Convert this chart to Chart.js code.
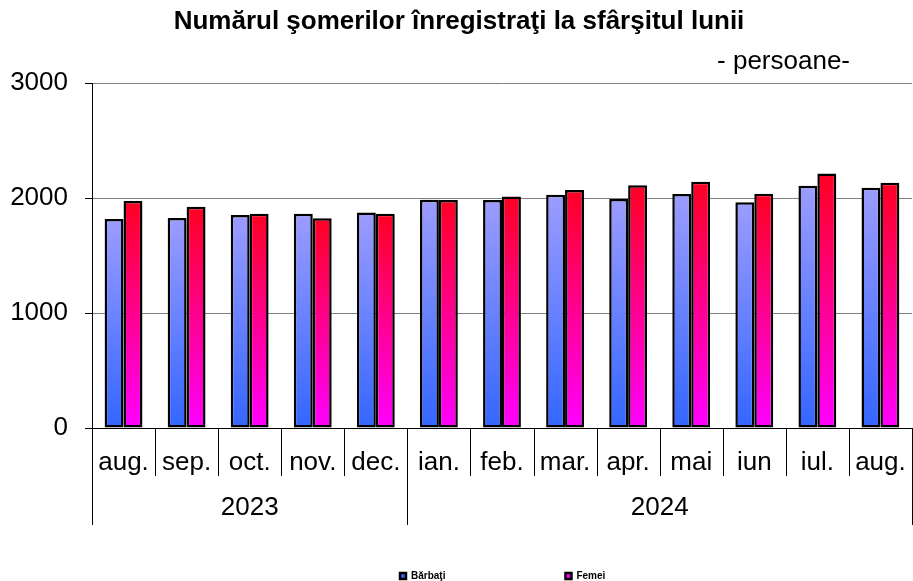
<!DOCTYPE html>
<html>
<head>
<meta charset="utf-8">
<script src="https://cdn.jsdelivr.net/npm/chart.js@4/dist/chart.umd.min.js"></script>
<style>
  html, body { margin: 0; padding: 0; background: #fff; overflow: hidden; }
  #wrap { width: 925px; height: 581px; position: relative; }
</style>
</head>
<body>
<div id="wrap"><canvas id="c"></canvas></div>
<script>
const TITLE = 'Numărul şomerilor înregistraţi la sfârşitul lunii';
const SUBTITLE = '- persoane-';
const months = ['aug.', 'sep.', 'oct.', 'nov.', 'dec.', 'ian.', 'feb.', 'mar.', 'apr.', 'mai', 'iun', 'iul.', 'aug.'];
const years = ['2023', '2024'];
const yearSpans = [5, 8];
const seriesNames = ['Bărbaţi', 'Femei'];
const barbati = [1817, 1826, 1852, 1864, 1873, 1985, 1983, 2029, 1991, 2035, 1962, 2107, 2090];
const femei = [1974, 1925, 1864, 1823, 1864, 1983, 2014, 2070, 2110, 2142, 2038, 2212, 2133];
const yTicks = [0, 1000, 2000, 3000];

const FONT = "'Liberation Sans', Arial, sans-serif";

function gradientFill(topColor, bottomColor, legendColor) {
  return function (ctx) {
    const chart = ctx.chart;
    if (ctx.type !== 'data' || !chart.chartArea) return legendColor;
    const y = chart.scales.y;
    const v = ctx.raw;
    const yTop = y.getPixelForValue(v);
    const yBot = y.getPixelForValue(0);
    if (!isFinite(yTop) || !isFinite(yBot) || yTop === yBot) return legendColor;
    const g = chart.ctx.createLinearGradient(0, yTop, 0, yBot);
    g.addColorStop(0, topColor);
    g.addColorStop(1, bottomColor);
    return g;
  };
}

const groupPlugin = {
  id: 'groupPlugin',
  afterLayout(chart) {
    // place subtitle and legend at their reference positions
    const sub = chart.boxes.find(b => b.options && b.options.text === SUBTITLE);
    if (sub) { sub.right = 850; }
    const lg = chart.legend;
    if (lg) {
      const pad = lg.options.labels.padding;
      lg.left = 400 - pad;
      lg.right = lg.left + 700;
      lg.top = 571 - pad;
      lg.bottom = 581;
    }
  },
  afterDraw(chart) {
    const x = chart.scales.x;
    const ctx = chart.ctx;
    const bottom = chart.chartArea.bottom;
    const half = (x.getPixelForValue(1) - x.getPixelForValue(0)) / 2;
    const yearBounds = [0];
    yearSpans.reduce((acc, s) => { yearBounds.push(acc + s); return acc + s; }, 0);
    ctx.save();
    ctx.strokeStyle = '#000';
    ctx.lineWidth = 1;
    for (let i = 0; i <= months.length; i++) {
      const px = Math.round(x.getPixelForValue(i) - half) + 0.5;
      const len = yearBounds.includes(i) ? 97 : 48;
      ctx.beginPath();
      ctx.moveTo(px, bottom);
      ctx.lineTo(px, bottom + len);
      ctx.stroke();
    }
    ctx.fillStyle = '#000';
    ctx.font = '26px ' + FONT;
    ctx.textAlign = 'center';
    ctx.textBaseline = 'middle';
    for (let k = 0; k < years.length; k++) {
      const a = x.getPixelForValue(yearBounds[k]) - half;
      const b = x.getPixelForValue(yearBounds[k + 1]) - half;
      ctx.fillText(years[k], (a + b) / 2, bottom + 80);
    }
    ctx.restore();
  }
};

new Chart(document.getElementById('c'), {
  type: 'bar',
  data: {
    labels: months,
    datasets: [
      {
        label: seriesNames[0],
        data: barbati,
        backgroundColor: gradientFill('#9C9CFF', '#3366FF', '#6677FF'),
        borderColor: '#000',
        borderWidth: 2.5,
        borderSkipped: false,
        categoryPercentage: 0.6,
        barPercentage: 1.0
      },
      {
        label: seriesNames[1],
        data: femei,
        backgroundColor: gradientFill('#FF0022', '#FF00FF', '#FF0099'),
        borderColor: '#000',
        borderWidth: 2.5,
        borderSkipped: false,
        categoryPercentage: 0.6,
        barPercentage: 1.0
      }
    ]
  },
  options: {
    responsive: true,
    maintainAspectRatio: false,
    animation: false,
    layout: { padding: { left: 0, right: 7, top: 0, bottom: 0 } },
    plugins: {
      title: {
        display: true,
        text: TITLE,
        color: '#000',
        font: { family: FONT, size: 26, weight: 'bold', lineHeight: 1.2 },
        padding: { top: 6.4, bottom: 0 }
      },
      subtitle: {
        display: true,
        text: SUBTITLE,
        align: 'end',
        color: '#000',
        font: { family: FONT, size: 26, weight: 'normal', lineHeight: 1.2 },
        padding: { top: 8.8, bottom: 5.4 }
      },
      legend: {
        position: 'bottom',
        align: 'start',
        maxHeight: 30,
        labels: {
          color: '#000',
          font: { family: FONT, size: 10, weight: 'bold' },
          boxWidth: 6,
          boxHeight: 6,
          padding: 120
        }
      },
      tooltip: { enabled: false }
    },
    scales: {
      x: {
        grid: { display: false, drawTicks: false },
        border: { display: true, color: '#000', width: 1 },
        ticks: { color: '#000', font: { family: FONT, size: 26 }, padding: 19, maxRotation: 0, autoSkip: false },
        afterFit(scale) { scale.height = 123; }
      },
      y: {
        min: 0,
        max: 3000,
        afterBuildTicks(scale) { scale.ticks = yTicks.map(v => ({ value: v })); },
        grid: { color: '#808080', tickColor: '#000', tickLength: 7, drawTicks: true },
        border: { display: true, color: '#000', width: 1 },
        ticks: {
          color: '#000',
          font: { family: FONT, size: 26 },
          padding: 17,
          callback: (v) => String(v)
        },
        afterFit(scale) { scale.width = 92; }
      }
    }
  },
  plugins: [groupPlugin]
});
</script>
</body>
</html>
